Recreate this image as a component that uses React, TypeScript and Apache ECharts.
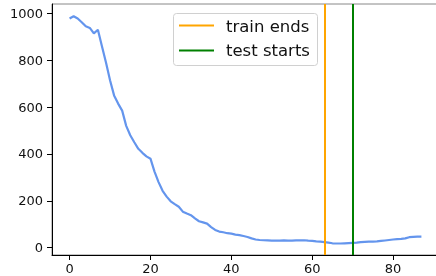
import React, { useEffect, useRef } from "react";
import * as echarts from "echarts";

const lossValues: number[] = [
  978, 988, 978, 962, 945, 938, 915, 930, 860, 790,
  715, 650, 615, 585, 520, 480, 450, 422, 405, 390,
  380, 325, 280, 243, 218, 198, 186, 175, 154, 146,
  139, 125, 113, 108, 103, 88, 76, 69, 66, 62,
  60, 56, 54, 50, 46, 40, 35, 33, 32, 31,
  30, 30, 30, 31, 30, 30, 31, 31, 32, 30,
  29, 27, 26, 24, 22, 19, 18, 18, 19, 20,
  21, 22, 24, 25, 26, 26, 27, 29, 31, 33,
  35, 37, 38, 40, 45, 46, 47, 47,
];
const trainEnds = 63;
const testStarts = 70;
const xTicks = [0, 20, 40, 60, 80];
const yTicks = [0, 200, 400, 600, 800, 1000];
const legendNames = ["train ends", "test starts"];

const FONT = "DejaVu Sans";

export default function App() {
  const ref = useRef<HTMLDivElement>(null);
  useEffect(() => {
    if (!ref.current) return;
    const chart = echarts.init(ref.current, undefined, { renderer: "svg" });
    const data = lossValues.map((v, i) => [i, v]);
    chart.setOption({
      animation: false,
      grid: {
        left: 52,
        top: 4,
        width: 387,
        height: 251,
        outerBoundsMode: "none",
        containLabel: false,
        show: true,
        borderColor: "#888",
        borderWidth: 1,
        backgroundColor: "transparent",
      },
      xAxis: {
        type: "value",
        min: -4.35,
        max: 91.35,
        axisLine: { show: true, onZero: false, lineStyle: { color: "#000", width: 1 } },
        axisTick: { show: true, length: 5, lineStyle: { color: "#000" }, customValues: xTicks },
        axisLabel: {
          customValues: xTicks,
          margin: 7,
          fontFamily: FONT,
          fontSize: 13,
          color: "#111",
          formatter: (v: number) => String(v),
        },
        splitLine: { show: false },
      },
      yAxis: {
        type: "value",
        min: -31,
        max: 1040,
        axisLine: { show: true, onZero: false, lineStyle: { color: "#000", width: 1 } },
        axisTick: { show: true, length: 5, lineStyle: { color: "#000" }, customValues: yTicks },
        axisLabel: {
          customValues: yTicks,
          margin: 9,
          fontFamily: FONT,
          fontSize: 13,
          color: "#111",
          formatter: (v: number) => String(v),
        },
        splitLine: { show: false },
      },
      series: [
        {
          type: "line",
          data,
          symbol: "none",
          lineStyle: { color: "#6495ED", width: 2.2 },
          markLine: {
            silent: true,
            symbol: ["none", "none"],
            label: { show: false },
            data: [
              { xAxis: trainEnds, lineStyle: { color: "#FFA500", width: 2, type: "solid" } },
              { xAxis: testStarts, lineStyle: { color: "#008000", width: 2, type: "solid" } },
            ],
          },
        },
      ],
      graphic: [
        {
          type: "rect",
          shape: { x: 173.5, y: 13.5, width: 144, height: 52, r: 3 },
          style: { fill: "rgba(255,255,255,0.8)", stroke: "#d0d0d0", lineWidth: 1 },
          z: 10,
        },
        {
          type: "line",
          shape: { x1: 179, y1: 25.5, x2: 214, y2: 25.5 },
          style: { stroke: "#FFA500", lineWidth: 2 },
          z: 11,
        },
        {
          type: "line",
          shape: { x1: 179, y1: 50.5, x2: 214, y2: 50.5 },
          style: { stroke: "#008000", lineWidth: 2 },
          z: 11,
        },
        {
          type: "text",
          x: 226,
          y: 26,
          style: {
            text: legendNames[0],
            fontFamily: FONT,
            fontSize: 16.5,
            fill: "#111",
            verticalAlign: "middle",
            align: "left",
          },
          z: 11,
        },
        {
          type: "text",
          x: 226,
          y: 50,
          style: {
            text: legendNames[1],
            fontFamily: FONT,
            fontSize: 16.5,
            fill: "#111",
            verticalAlign: "middle",
            align: "left",
          },
          z: 11,
        },
      ],
    });
    return () => chart.dispose();
  }, []);
  return (
    <div
      ref={ref}
      style={{ position: "fixed", left: 0, top: 0, width: 436, height: 276 }}
    />
  );
}
